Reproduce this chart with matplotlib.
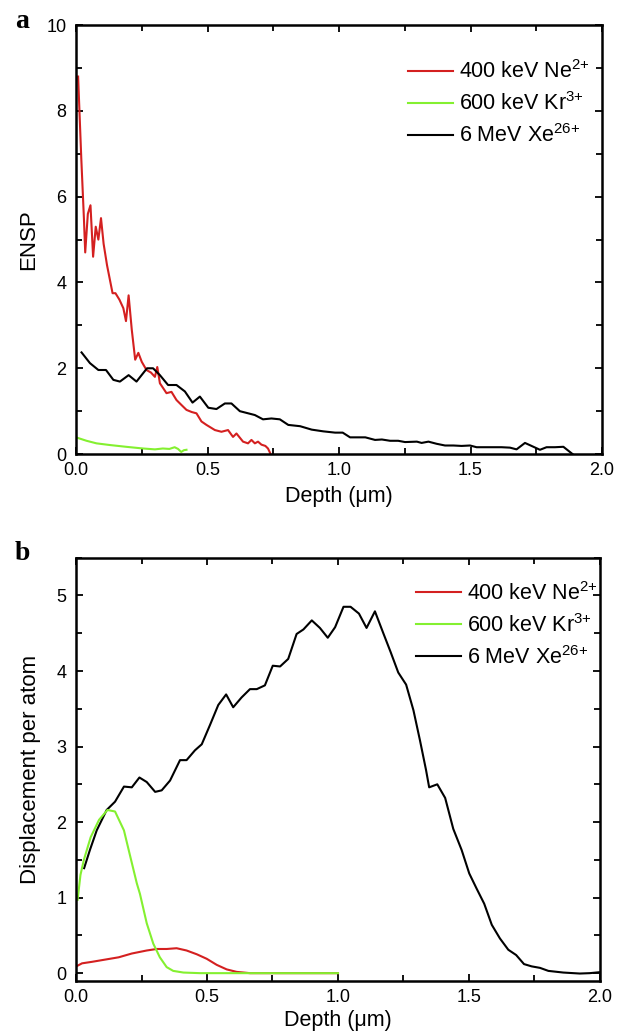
import matplotlib
matplotlib.use("Agg")
import matplotlib.pyplot as plt
from matplotlib.ticker import MultipleLocator, FormatStrFormatter

plt.rcParams['font.family'] = ['Liberation Sans', 'DejaVu Sans']
plt.rcParams['mathtext.fontset'] = 'custom'
plt.rcParams['mathtext.rm'] = 'Liberation Sans'
plt.rcParams['mathtext.it'] = 'Liberation Sans:italic'

RED = '#d42020'
GREEN = '#84f030'
BLACK = '#000000'

labels = ['400 keV Ne$^{\\text{2+}}$', '600 keV Kr$^{\\text{3+}}$', '6 MeV Xe$^{\\text{26+}}$']

# ---------- Panel a: ENSP ----------
ne_a_x = [0.008, 0.02, 0.03, 0.035, 0.045, 0.055, 0.065, 0.075, 0.085, 0.095, 0.105, 0.118,
          0.139, 0.15, 0.165, 0.18, 0.19, 0.2, 0.212, 0.225, 0.237, 0.25, 0.268, 0.285, 0.3,
          0.309, 0.319, 0.33, 0.344, 0.363, 0.382, 0.4, 0.42, 0.44, 0.458, 0.477, 0.496,
          0.512, 0.528, 0.553, 0.578, 0.597, 0.61, 0.635, 0.654, 0.667, 0.68, 0.692, 0.705,
          0.72, 0.73, 0.74]
ne_a_y = [8.8, 6.9, 5.5, 4.7, 5.6, 5.8, 4.6, 5.3, 5.0, 5.5, 4.9, 4.4,
          3.75, 3.75, 3.6, 3.4, 3.1, 3.7, 2.9, 2.2, 2.36, 2.15, 1.96, 1.9, 1.8,
          2.03, 1.65, 1.55, 1.42, 1.45, 1.26, 1.15, 1.03, 0.98, 0.95, 0.76, 0.68,
          0.62, 0.56, 0.52, 0.56, 0.4, 0.48, 0.29, 0.25, 0.33, 0.25, 0.29, 0.22,
          0.19, 0.13, 0.0]

kr_a_x = [0.005, 0.04, 0.078, 0.13, 0.19, 0.255, 0.3, 0.33, 0.355, 0.375, 0.388, 0.4, 0.41, 0.42]
kr_a_y = [0.38, 0.31, 0.25, 0.21, 0.17, 0.13, 0.11, 0.13, 0.12, 0.16, 0.12, 0.05, 0.09, 0.1]

xe_a_x = [0.021, 0.053, 0.085, 0.114, 0.142, 0.167, 0.2, 0.23, 0.27, 0.293, 0.319, 0.35,
          0.382, 0.414, 0.443, 0.471, 0.503, 0.534, 0.566, 0.591, 0.623, 0.68, 0.711, 0.743,
          0.775, 0.807, 0.852, 0.896, 0.94, 0.985, 1.014, 1.042, 1.1, 1.137, 1.163, 1.194,
          1.225, 1.251, 1.296, 1.314, 1.34, 1.371, 1.403, 1.435, 1.466, 1.498, 1.523, 1.574,
          1.618, 1.65, 1.675, 1.707, 1.732, 1.764, 1.789, 1.821, 1.853, 1.888]
xe_a_y = [2.37, 2.12, 1.96, 1.96, 1.73, 1.69, 1.84, 1.69, 2.0, 2.0, 1.84, 1.61,
          1.61, 1.46, 1.2, 1.34, 1.08, 1.05, 1.18, 1.18, 1.0, 0.91, 0.81, 0.83,
          0.81, 0.68, 0.65, 0.57, 0.53, 0.5, 0.5, 0.39, 0.39, 0.33, 0.34, 0.31,
          0.31, 0.28, 0.29, 0.26, 0.29, 0.24, 0.2, 0.2, 0.19, 0.2, 0.16, 0.16,
          0.16, 0.15, 0.11, 0.26, 0.19, 0.1, 0.16, 0.16, 0.17, 0.0]

# ---------- Panel b: displacement per atom ----------
ne_b_x = [0.0, 0.023, 0.061, 0.112, 0.163, 0.213, 0.27, 0.308, 0.346, 0.384, 0.422, 0.461,
          0.499, 0.537, 0.575, 0.613, 0.664, 0.8, 1.0]
ne_b_y = [0.088, 0.13, 0.15, 0.18, 0.21, 0.26, 0.3, 0.32, 0.32, 0.33, 0.3, 0.25,
          0.19, 0.11, 0.05, 0.017, 0.0, 0.0, 0.0]

kr_b_x = [0.006, 0.017, 0.03, 0.056, 0.088, 0.12, 0.149, 0.183, 0.206, 0.232, 0.244, 0.27,
          0.295, 0.32, 0.346, 0.371, 0.41, 0.473, 0.7, 1.0]
kr_b_y = [0.97, 1.3, 1.5, 1.8, 2.03, 2.16, 2.14, 1.89, 1.56, 1.19, 1.05, 0.66,
          0.39, 0.21, 0.08, 0.03, 0.008, 0.0, 0.0, 0.0]

xe_b_x = [0.031, 0.053, 0.079, 0.117, 0.149, 0.183, 0.213, 0.242, 0.27, 0.302, 0.327, 0.359,
          0.397, 0.422, 0.454, 0.48, 0.512, 0.543, 0.573, 0.6, 0.632, 0.664, 0.69, 0.721,
          0.751, 0.779, 0.81, 0.842, 0.868, 0.9, 0.931, 0.961, 0.989, 1.021, 1.048, 1.08,
          1.109, 1.141, 1.173, 1.201, 1.23, 1.26, 1.288, 1.313, 1.336, 1.348, 1.379, 1.409,
          1.44, 1.472, 1.501, 1.529, 1.558, 1.587, 1.618, 1.65, 1.68, 1.71, 1.739, 1.771,
          1.803, 1.86, 1.923, 1.961, 2.0]
xe_b_y = [1.39, 1.63, 1.89, 2.16, 2.27, 2.47, 2.46, 2.59, 2.53, 2.4, 2.42, 2.55,
          2.82, 2.82, 2.95, 3.03, 3.29, 3.55, 3.69, 3.52, 3.65, 3.76, 3.76, 3.81,
          4.07, 4.06, 4.16, 4.49, 4.55, 4.67, 4.57, 4.44, 4.58, 4.85, 4.85, 4.76,
          4.57, 4.79, 4.5, 4.25, 3.98, 3.82, 3.48, 3.08, 2.69, 2.46, 2.5, 2.32,
          1.91, 1.63, 1.32, 1.12, 0.92, 0.64, 0.46, 0.31, 0.24, 0.12, 0.09, 0.07,
          0.03, 0.008, -0.005, 0.0, 0.013]

fig = plt.figure(figsize=(6.22, 10.32), dpi=100)
ax1 = fig.add_axes([0.1222, 0.560, 0.8457, 0.4157])
ax2 = fig.add_axes([0.1222, 0.0497, 0.8424, 0.4099])

lw = 1.5
ax1.plot(ne_a_x, ne_a_y, color=RED, lw=lw, label=labels[0])
ax1.plot(kr_a_x, kr_a_y, color=GREEN, lw=lw, label=labels[1])
ax1.plot(xe_a_x, xe_a_y, color=BLACK, lw=lw, label=labels[2])

ax2.plot(ne_b_x, ne_b_y, color=RED, lw=lw, label=labels[0])
ax2.plot(xe_b_x, xe_b_y, color=BLACK, lw=lw, label=labels[2])
ax2.plot(kr_b_x, kr_b_y, color=GREEN, lw=lw, label=labels[1])

ax1.set_xlim(0, 2.0)
ax1.set_ylim(0, 10)
ax1.yaxis.set_major_locator(MultipleLocator(2))
ax1.yaxis.set_minor_locator(MultipleLocator(1))

ax2.set_xlim(0, 2.0)
ax2.set_ylim(-0.1, 5.5)
ax2.yaxis.set_major_locator(MultipleLocator(1))
ax2.yaxis.set_minor_locator(MultipleLocator(0.5))

for ax in (ax1, ax2):
    ax.xaxis.set_major_locator(MultipleLocator(0.5))
    ax.xaxis.set_minor_locator(MultipleLocator(0.25))
    ax.xaxis.set_major_formatter(FormatStrFormatter('%.1f'))
    ax.tick_params(which='both', direction='in', top=True, right=True, labelsize=13,
                   width=1.3)
    ax.tick_params(axis='y', which='both', pad=7)
    ax.tick_params(axis='x', which='both', pad=6)
    ax.tick_params(which='major', length=5)
    ax.tick_params(which='minor', length=4)
    for s in ax.spines.values():
        s.set_linewidth(1.8)

ax1.set_xlabel('Depth (\u03bcm)', fontsize=15.5, labelpad=5)
ax2.set_xlabel('Depth (\u03bcm)', fontsize=15.5, labelpad=3)
ax1.set_ylabel('ENSP', fontsize=16, labelpad=5)
ax2.set_ylabel('Displacement per atom', fontsize=16, labelpad=11)

leg_kw = dict(loc='upper left', frameon=False, fontsize=15.5, handlelength=2.1,
              handletextpad=0.28, labelspacing=0.42, borderpad=0, borderaxespad=0)
h1, l1 = ax1.get_legend_handles_labels()
ax1.legend(h1, l1, bbox_to_anchor=(0.631, 0.918), **leg_kw)
h2, l2 = ax2.get_legend_handles_labels()
order = [0, 2, 1]
ax2.legend([h2[i] for i in order], [l2[i] for i in order],
           bbox_to_anchor=(0.649, 0.943), **leg_kw)

fig.text(22 / 622, 1 - 21 / 1032, 'a', fontsize=20, fontweight='bold',
         family='Liberation Serif', ha='center', va='center')
fig.text(22 / 622, 1 - 554 / 1032, 'b', fontsize=20, fontweight='bold',
         family='Liberation Serif', ha='center', va='center')

fig.savefig('out.png', dpi=100)
